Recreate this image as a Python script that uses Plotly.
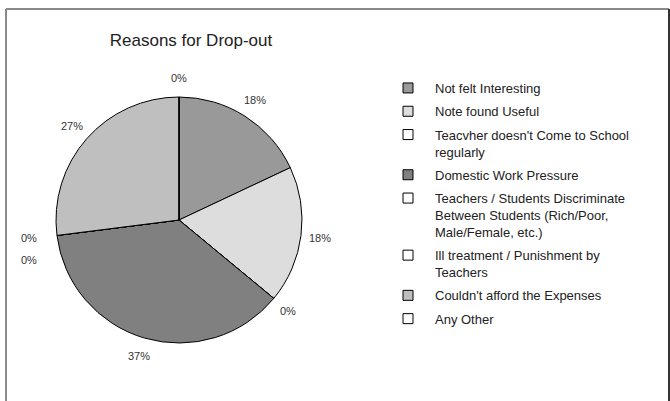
import math
import plotly.graph_objects as go

categories = [
    "Not felt Interesting",
    "Note found Useful",
    "Teacvher doesn't Come to School<br>regularly",
    "Domestic Work Pressure",
    "Teachers / Students Discriminate<br>Between Students (Rich/Poor,<br>Male/Female, etc.)",
    "Ill treatment / Punishment by<br>Teachers",
    "Couldn't afford the Expenses",
    "Any Other",
]
values = [18, 18, 0, 37, 0, 0, 27, 0]
colors = ["#999999", "#dddddd", "#ffffff", "#808080", "#ffffff", "#ffffff", "#bfbfbf", "#ffffff"]

FONT = "Liberation Sans, Arial, sans-serif"
W, H = 670, 401
dom_x = [56 / W, 302 / W]
dom_y = [1 - 343 / H, 1 - 97 / H]

fig = go.Figure()
fig.add_trace(go.Pie(
    labels=categories,
    values=values,
    sort=False,
    direction="clockwise",
    rotation=0,
    marker=dict(colors=colors, line=dict(color="#000000", width=1)),
    textinfo="none",
    domain=dict(x=dom_x, y=dom_y),
    showlegend=False,
    hoverinfo="label+percent",
))

# legend entries (one group each so that group gaps space them like the original)
for i, (cat, col) in enumerate(zip(categories, colors)):
    fig.add_trace(go.Scatter(
        x=[None], y=[None], mode="markers", name=cat,
        legendgroup=f"g{i}",
        marker=dict(symbol="square", size=10, color=col,
                    line=dict(color="#000000", width=1)),
        showlegend=True, hoverinfo="skip",
    ))

# percentage labels placed outside the slices (derived from the data)
cx = (dom_x[0] + dom_x[1]) / 2 * W
cy = (1 - (dom_y[0] + dom_y[1]) / 2) * H
r = (dom_x[1] - dom_x[0]) * W / 2
D = r + 19
total = sum(values)
cum = 0
placed = []
annotations = []
for v in values:
    mid = (cum + v / 2) / total * 2 * math.pi
    cum += v
    ux, uy = math.sin(mid), -math.cos(mid)
    txt = f"{round(v / total * 100)}%"
    x = cx + D * ux
    y = cy + D * uy
    for k, (px, py) in enumerate(placed):
        if abs(x - px) < 20 and abs(y - py) < 14:
            x = px - 9
            placed[k] = (x, py)
            annotations[k]["x"] = x / W
            y = py + 22
    placed.append((x, y))
    annotations.append(dict(
        x=x / W, y=1 - y / H, xref="paper", yref="paper",
        text=txt, showarrow=False, xanchor="center", yanchor="middle",
        font=dict(family=FONT, size=11, color="#333333"),
    ))

fig.update_layout(
    width=W, height=H,
    margin=dict(l=0, r=0, t=0, b=0),
    paper_bgcolor="white",
    plot_bgcolor="white",
    xaxis=dict(visible=False),
    yaxis=dict(visible=False),
    title=dict(text="Reasons for Drop-out", x=191 / W, xanchor="center",
               y=1 - 40 / H, yanchor="middle",
               font=dict(family=FONT, size=17, color="#222222")),
    legend=dict(x=381 / W, y=1 - 73 / H, xanchor="left", yanchor="top",
                font=dict(family=FONT, size=13, color="#222222"),
                valign="top", tracegroupgap=3.4, traceorder="grouped",
                itemwidth=44),
    annotations=annotations,
    shapes=[
        dict(type="line", xref="paper", yref="paper",
             x0=6 / W, x1=6 / W, y0=-0.05, y1=1 - 9 / H,
             line=dict(color="#8a8a8a", width=2)),
        dict(type="line", xref="paper", yref="paper",
             x0=6 / W, x1=669 / W, y0=1 - 9 / H, y1=1 - 9 / H,
             line=dict(color="#8a8a8a", width=2)),
        dict(type="line", xref="paper", yref="paper",
             x0=669 / W, x1=669 / W, y0=-0.05, y1=1 - 9 / H,
             line=dict(color="#333333", width=2)),
    ],
)

fig.write_html("out.html")
